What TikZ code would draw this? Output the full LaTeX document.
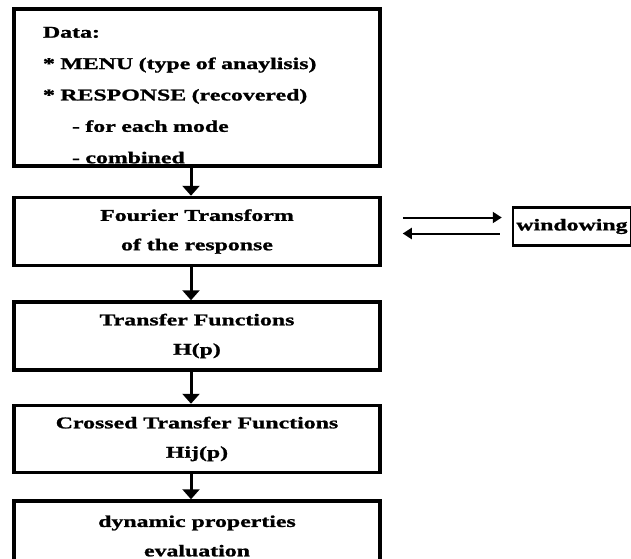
\documentclass[tikz,border=0pt]{standalone}
\usepackage{fontspec}
\setmainfont{Liberation Serif}[FakeStretch=1.45, BoldFeatures={FakeBold=1.3}]
\usepackage{tikz}
\usetikzlibrary{positioning, arrows.meta}

\tikzset{
  stage/.style={rectangle, draw=black, line width=3.5bp, minimum width=366bp, align=center,
    font=\bfseries\fontsize{16.5}{29.5}\selectfont},
  flow/.style={-{Triangle[length=10bp,width=17bp]}, line width=3bp},
  side/.style={-{Triangle[length=9bp,width=11bp]}, line width=2bp},
}

\begin{document}
\begin{tikzpicture}
  \useasboundingbox (0,0) rectangle (631bp,-559bp);
\node[stage, minimum height=157bp, text width=308bp, inner xsep=29bp, inner ysep=0bp, align=left,
  font=\bfseries\fontsize{16.5}{31.5}\selectfont] (data) at (197bp,-87.5bp)
  {\rule{0pt}{26bp}Data:\\ {*}~MENU (type of anaylisis)\\ {*}~RESPONSE (recovered)\\ \hspace*{29bp}- for each mode\\ \hspace*{29bp}- combined};
\node[stage, minimum height=68bp, below=28bp of data] (fourier) {Fourier Transform\\of the response};
\node[stage, minimum height=68bp, below=33bp of fourier] (transfer) {Transfer Functions\\H(p)};
\node[stage, minimum height=67bp, below=32bp of transfer] (crossed) {Crossed Transfer Functions\\Hij(p)};
\node[stage, minimum height=70bp, below=25bp of crossed] (dynamic) {dynamic properties\\evaluation};
\node[rectangle, draw=black, line width=2.5bp, minimum width=115bp, minimum height=38bp,
  font=\bfseries\fontsize{16.5}{20}\selectfont, right=130bp of fourier, yshift=5bp] (window) {windowing};
\path[flow]
	([xshift=-6bp]data.south) edge ([xshift=-6bp]fourier.north)
	([xshift=-6bp]fourier.south) edge ([xshift=-6bp]transfer.north)
	([xshift=-6bp]transfer.south) edge ([xshift=-6bp]crossed.north)
	([xshift=-6bp]crossed.south) edge ([xshift=-6bp]dynamic.north)
;
\draw[side, shorten <=21bp, shorten >=10bp] ([yshift=9bp]window.west -| fourier.east) -- ([yshift=9bp]window.west);
\draw[side, shorten <=12bp, shorten >=21bp] ([yshift=-7bp]window.west) -- ([yshift=-7bp]window.west -| fourier.east);
\end{tikzpicture}
\end{document}
